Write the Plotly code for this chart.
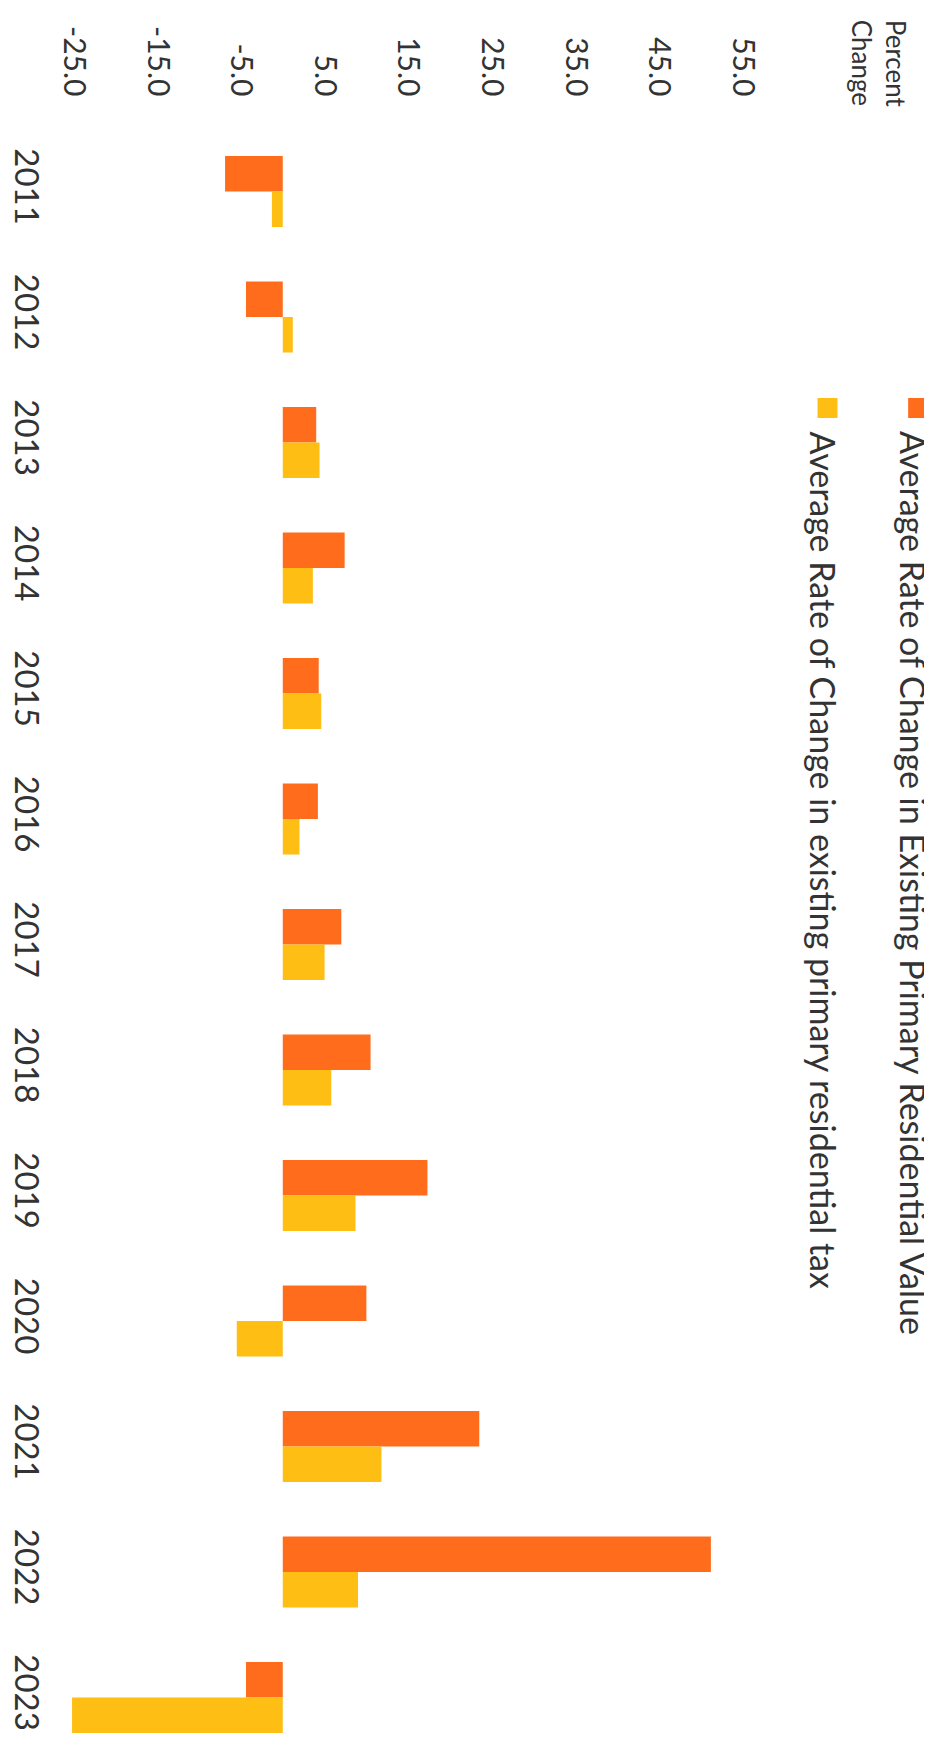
import plotly.graph_objects as go

years = ["2011", "2012", "2013", "2014", "2015", "2016", "2017",
         "2018", "2019", "2020", "2021", "2022", "2023"]
value_change = [-6.9, -4.4, 4.0, 7.4, 4.3, 4.2, 7.0, 10.5, 17.3, 10.0, 23.5, 51.2, -4.4]
tax_change = [-1.3, 1.2, 4.4, 3.6, 4.6, 2.0, 5.0, 5.8, 8.7, -5.5, 11.8, 9.0, -25.2]
series_names = ["Average Rate of Change in Existing Primary Residential Value",
                "Average Rate of Change in existing primary residential tax"]
tick_vals = [-25, -15, -5, 5, 15, 25, 35, 45, 55]
tick_text = ["-25.0", "-15.0", "-5.0", "5.0", "15.0", "25.0", "35.0", "45.0", "55.0"]
axis_title = "Percent<br>Change"

ORANGE = "#FF6C1C"
YELLOW = "#FFBE14"
TEXT = "#333333"
FONT = "Lato"

W, H = 932, 1743
ML, MR, MT, MB = 45, 0, 120, 0
PW, PH = W - ML - MR, H - MT - MB


def px(xp):
    return (xp - ML) / PW


def py(yp):
    return 1 - (yp - MT) / PH


fig = go.Figure()
fig.add_trace(go.Bar(y=years, x=value_change, orientation="h", name=series_names[0],
                     marker=dict(color=ORANGE, line=dict(width=0))))
fig.add_trace(go.Bar(y=years, x=tax_change, orientation="h", name=series_names[1],
                     marker=dict(color=YELLOW, line=dict(width=0))))

fig.update_layout(
    width=W, height=H,
    margin=dict(l=ML, r=MR, t=MT, b=MB),
    paper_bgcolor="white", plot_bgcolor="white",
    barmode="group", bargap=0.434, bargroupgap=0,
    showlegend=False,
    font=dict(family=FONT, color=TEXT),
)
fig.update_xaxes(
    side="top", range=[-27, 78.6],
    tickvals=tick_vals, ticktext=tick_text, tickangle=90,
    tickfont=dict(size=30, family=FONT, color=TEXT),
    ticklabelstandoff=26,
    showgrid=False, zeroline=False, showline=False, ticks="",
)
fig.update_yaxes(
    type="category", categoryorder="array", categoryarray=years,
    range=[12.426, -0.506], tickangle=90,
    tickfont=dict(size=33, family=FONT, color=TEXT),
    ticklabelstandoff=8,
    showgrid=False, zeroline=False, showline=False, ticks="",
)

# rotated legend (text + swatches)
legend_items = [(series_names[0], ORANGE, 910), (series_names[1], YELLOW, 819)]
for name, col, xc in legend_items:
    fig.add_shape(type="rect", xref="paper", yref="paper",
                  x0=px(xc - 10), x1=px(xc + 10), y0=py(410), y1=py(390),
                  fillcolor=col, line=dict(width=0))
    fig.add_annotation(text=name, xref="paper", yref="paper",
                       x=px(xc - 4), y=py(421), xanchor="center", yanchor="top",
                       textangle=90, showarrow=False,
                       font=dict(size=34, family=FONT, color=TEXT))

fig.add_annotation(text=axis_title, xref="paper", yref="paper",
                   x=px(871), y=py(10), xanchor="center", yanchor="top",
                   textangle=90, showarrow=False, align="left",
                   font=dict(size=26, family=FONT, color=TEXT))

fig.write_html("out.html")
